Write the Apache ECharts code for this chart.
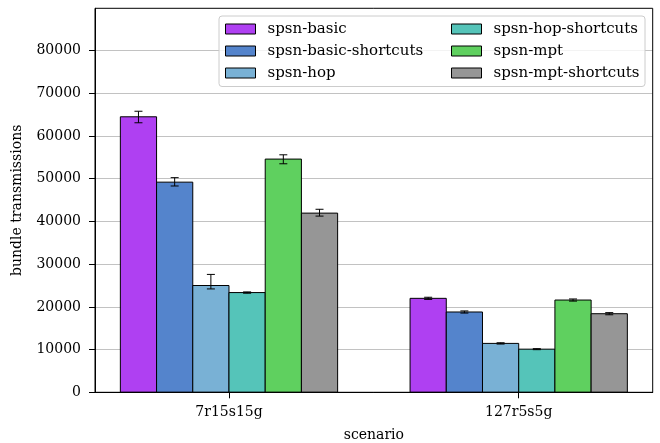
<!DOCTYPE html>
<html>
<head>
<meta charset="utf-8">
<script src="https://cdn.jsdelivr.net/npm/echarts@6/dist/echarts.min.js"></script>
<style>
html,body{margin:0;padding:0;background:#fff;}
#chart{width:660px;height:443px;}
</style>
</head>
<body>
<div id="chart"></div>
<script>
// ---- data ----
const categories = ['7r15s15g', '127r5s5g'];
const seriesNames = ['spsn-basic', 'spsn-basic-shortcuts', 'spsn-hop', 'spsn-hop-shortcuts', 'spsn-mpt', 'spsn-mpt-shortcuts'];
const seriesColors = ['#af40f2', '#5484cc', '#79b1d5', '#55c4b9', '#5fd05f', '#969696'];
// mean values per scenario
const basicValues = [64500, 22000];
const basicShortcutsValues = [49200, 18800];
const hopValues = [25000, 11450];
const hopShortcutsValues = [23350, 10100];
const mptValues = [54600, 21600];
const mptShortcutsValues = [41950, 18400];
// error bars (below, above)
const basicErrLow = [1400, 250];           const basicErrHigh = [1300, 250];
const basicShortcutsErrLow = [900, 250];   const basicShortcutsErrHigh = [1050, 250];
const hopErrLow = [800, 150];              const hopErrHigh = [2600, 150];
const hopShortcutsErrLow = [150, 120];     const hopShortcutsErrHigh = [150, 120];
const mptErrLow = [1100, 250];             const mptErrHigh = [1000, 250];
const mptShortcutsErrLow = [700, 250];     const mptShortcutsErrHigh = [900, 250];
const yTicks = [0, 10000, 20000, 30000, 40000, 50000, 60000, 70000, 80000];

const allValues = [basicValues, basicShortcutsValues, hopValues, hopShortcutsValues, mptValues, mptShortcutsValues];
const allLow = [basicErrLow, basicShortcutsErrLow, hopErrLow, hopShortcutsErrLow, mptErrLow, mptShortcutsErrLow];
const allHigh = [basicErrHigh, basicShortcutsErrHigh, hopErrHigh, hopShortcutsErrHigh, mptErrHigh, mptShortcutsErrHigh];

const BAR_W = 0.125;
const FONT = 'DejaVu Serif';

function renderItem(params, api) {
  const si = params.seriesIndex;
  const cat = api.value(0), v = api.value(1), lo = api.value(2), hi = api.value(3);
  const xc = cat + (si - (seriesNames.length - 1) / 2) * BAR_W;
  const p0 = api.coord([xc - BAR_W / 2, v]);
  const p1 = api.coord([xc + BAR_W / 2, 0]);
  const pt = api.coord([xc, v + hi]);
  const pb = api.coord([xc, v - lo]);
  const cap = 4;
  return {
    type: 'group',
    children: [
      { type: 'rect', shape: { x: p0[0], y: p0[1], width: p1[0] - p0[0], height: p1[1] - p0[1] },
        style: { fill: api.visual('color'), stroke: '#000', lineWidth: 1 } },
      { type: 'line', shape: { x1: pt[0], y1: pt[1], x2: pb[0], y2: pb[1] }, style: { stroke: '#000', lineWidth: 1 } },
      { type: 'line', shape: { x1: pt[0] - cap, y1: pt[1], x2: pt[0] + cap, y2: pt[1] }, style: { stroke: '#000', lineWidth: 1 } },
      { type: 'line', shape: { x1: pb[0] - cap, y1: pb[1], x2: pb[0] + cap, y2: pb[1] }, style: { stroke: '#000', lineWidth: 1 } }
    ]
  };
}

const series = seriesNames.map((name, si) => ({
  type: 'custom',
  name: name,
  renderItem: renderItem,
  itemStyle: { color: seriesColors[si] },
  encode: { x: 0, y: 1 },
  z: 2,
  data: categories.map((c, ci) => [ci, allValues[si][ci], allLow[si][ci], allHigh[si][ci]])
}));

function legendData(names) {
  return names.map(n => ({ name: n, itemStyle: { color: seriesColors[seriesNames.indexOf(n)], borderColor: '#000', borderWidth: 1 } }));
}
const legendCommon = {
  orient: 'vertical', icon: 'rect', itemWidth: 30, itemHeight: 10, itemGap: 6, padding: 0,
  top: 21, selectedMode: false, z: 5,
  textStyle: { fontFamily: FONT, fontSize: 15, color: '#000', lineHeight: 16, padding: [0, 0, 0, 7] }
};

const chart = echarts.init(document.getElementById('chart'), null, { renderer: 'canvas' });
chart.setOption({
  backgroundColor: '#fff',
  animation: false,
  grid: { left: 95, right: 7.3, top: 8.3, bottom: 50.7, containLabel: false, outerBoundsMode: 'none',
          show: true, borderColor: '#000', borderWidth: 1, backgroundColor: 'transparent', z: 3 },
  xAxis: {
    type: 'value', min: -0.4625, max: 1.4625,
    name: 'scenario', nameLocation: 'middle', nameGap: 36,
    nameTextStyle: { fontFamily: FONT, fontSize: 14, color: '#000' },
    axisLine: { onZero: false, lineStyle: { color: '#000', width: 1 } },
    axisTick: { show: true, inside: false, length: 6, customValues: [0, 1], lineStyle: { color: '#000' } },
    axisLabel: { customValues: [0, 1], formatter: v => categories[Math.round(v)], fontFamily: FONT, fontSize: 14, color: '#000', margin: 13 },
    splitLine: { show: false }
  },
  yAxis: {
    type: 'value', min: 0, max: 89900, interval: 10000,
    name: 'bundle transmissions', nameLocation: 'middle', nameGap: 71,
    nameTextStyle: { fontFamily: FONT, fontSize: 14, color: '#000' },
    axisLine: { show: true, onZero: false, lineStyle: { color: '#000', width: 1 } },
    axisTick: { show: true, inside: false, length: 6, customValues: yTicks, lineStyle: { color: '#000' } },
    axisLabel: { customValues: yTicks, formatter: v => String(v), fontFamily: FONT, fontSize: 14, color: '#000', margin: 14 },
    splitLine: { show: true, lineStyle: { color: '#c2c2c2', width: 1.2 } }
  },
  legend: [
    Object.assign({}, legendCommon, { left: 225, data: legendData(seriesNames.slice(0, 3)) }),
    Object.assign({}, legendCommon, { left: 451, data: legendData(seriesNames.slice(3, 6)) })
  ],
  graphic: [{
    type: 'rect', z: 4,
    shape: { x: 219, y: 16, width: 426, height: 70.5, r: 3 },
    style: { fill: 'rgba(255,255,255,0.8)', stroke: '#cccccc', lineWidth: 1 }
  }],
  series: series
});
</script>
</body>
</html>
